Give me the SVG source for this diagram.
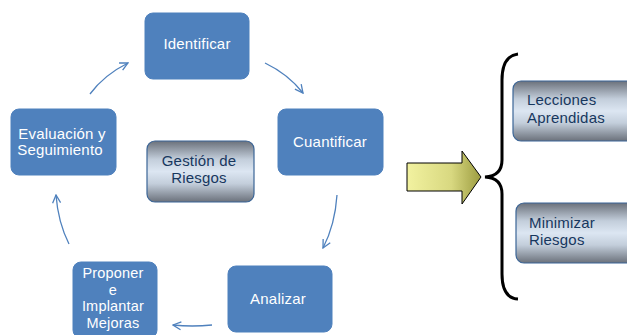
<svg xmlns="http://www.w3.org/2000/svg" width="627" height="335" viewBox="0 0 627 335">
<defs>
<style>
.box{fill:#4F81BD;stroke:#4F81BD;stroke-width:1}
.wt{fill:#FFFFFF;font-family:"Liberation Sans",Arial,sans-serif;font-size:15px;letter-spacing:0.2px;text-anchor:middle}
.sm{font-size:14.5px}
.gt{fill:#17375E;font-family:"Liberation Sans",Arial,sans-serif;font-size:15px;letter-spacing:0.2px}
.gbox{fill:url(#gray);stroke:#3B6597;stroke-width:1.2}
.conn{fill:none;stroke:#4F81BD;stroke-width:1.3;marker-end:url(#chev)}
</style>
<linearGradient id="gray" x1="0" y1="0" x2="0" y2="1">
<stop offset="0" stop-color="#6B717B"/>
<stop offset="0.3" stop-color="#C3CEDB"/>
<stop offset="0.5" stop-color="#DCE6F2"/>
<stop offset="0.7" stop-color="#C3CEDB"/>
<stop offset="1" stop-color="#6B717B"/>
</linearGradient>
<linearGradient id="yel" x1="0" y1="0" x2="1" y2="0">
<stop offset="0" stop-color="#F2F2A0"/>
<stop offset="0.6" stop-color="#D8D880"/>
<stop offset="1" stop-color="#9C9C40"/>
</linearGradient>
<marker id="chev" viewBox="0 0 10 10" refX="9" refY="5" markerWidth="10" markerHeight="10" markerUnits="userSpaceOnUse" orient="auto">
<path d="M1,1 L9,5 L1,9" fill="none" stroke="#4F81BD" stroke-width="1.3"/>
</marker>
</defs>
<rect width="627" height="335" fill="#FFFFFF"/>
<g id="connectors">
<path class="conn" d="M90,94 Q104,75 128,63"/>
<path class="conn" d="M265,63 Q288,74 303,93"/>
<path class="conn" d="M337,195 Q335,225 323,248"/>
<path class="conn" d="M212,325 Q192,327 173,325"/>
<path class="conn" d="M69,244 Q58,222 56,195"/>
</g>
<g id="identificar">
<rect class="box" x="145" y="13" width="104" height="66" rx="8"/>
<text class="wt" x="197" y="49">Identificar</text>
</g>
<g id="cuantificar">
<rect class="box" x="278" y="109" width="105" height="66" rx="8"/>
<text class="wt" x="330" y="147">Cuantificar</text>
</g>
<g id="analizar">
<rect class="box" x="228" y="266" width="104" height="66" rx="8"/>
<text class="wt" x="278" y="304">Analizar</text>
</g>
<g id="proponer">
<rect class="box" x="73" y="262" width="84" height="76" rx="8"/>
<text class="wt sm" x="113" y="278">Proponer</text>
<text class="wt sm" x="113" y="294.5">e</text>
<text class="wt sm" x="113" y="311">Implantar</text>
<text class="wt sm" x="113" y="328">Mejoras</text>
</g>
<g id="evaluacion">
<rect class="box" x="11" y="109" width="105" height="66" rx="8"/>
<text class="wt" x="62" y="139">Evaluación y</text>
<text class="wt" x="60" y="155">Seguimiento</text>
</g>
<g id="gestion">
<rect class="gbox" x="147" y="141" width="107" height="61" rx="8"/>
<text class="gt" x="199" y="166" text-anchor="middle">Gestión de</text>
<text class="gt" x="199" y="183" text-anchor="middle">Riesgos</text>
</g>
<g id="flecha">
<path d="M407,163 L462,163 L462,151 L481,177 L462,204 L462,191 L407,191 Z" fill="url(#yel)" stroke="#000000" stroke-width="1"/>
</g>
<g id="llave">
<path d="M518,54 Q502,56 502,80 L502,160 Q502,176 485,177 Q502,178 502,194 L502,274 Q502,298 518,299" fill="none" stroke="#000000" stroke-width="3"/>
</g>
<g id="lecciones">
<rect class="gbox" x="513" y="81" width="130" height="60" rx="8"/>
<text class="gt" x="527" y="105">Lecciones</text>
<text class="gt" x="527" y="123">Aprendidas</text>
</g>
<g id="minimizar">
<rect class="gbox" x="516" y="203" width="130" height="60" rx="8"/>
<text class="gt" x="529" y="228">Minimizar</text>
<text class="gt" x="529" y="245">Riesgos</text>
</g>
</svg>
